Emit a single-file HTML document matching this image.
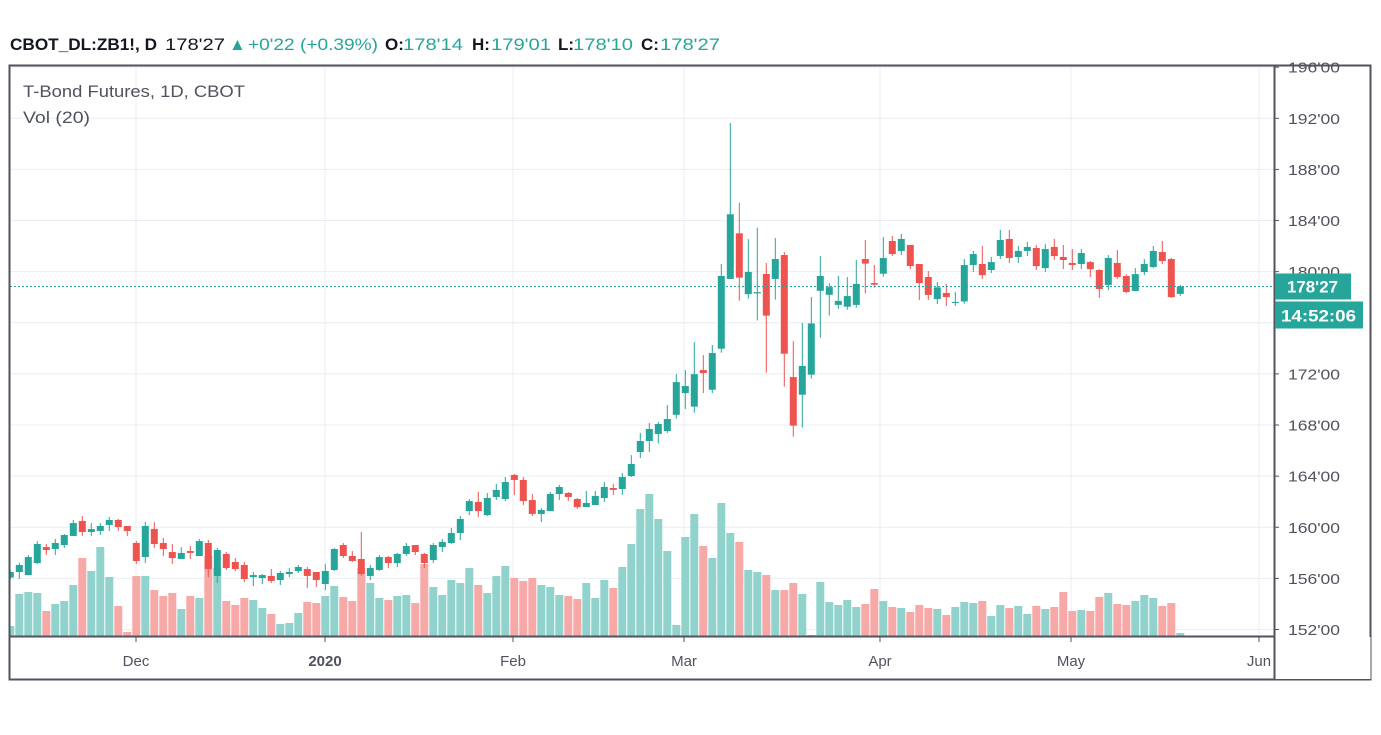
<!DOCTYPE html>
<html><head><meta charset="utf-8"><style>
html,body{margin:0;padding:0;background:#fff;}
svg{display:block;font-family:"Liberation Sans",sans-serif;}
</style></head><body>
<svg id="chart" width="1381" height="735" viewBox="0 0 1381 735" xmlns="http://www.w3.org/2000/svg">
<g id="header" font-size="17">
  <text x="10" y="50" font-weight="bold" fill="#131722" textLength="147" lengthAdjust="spacingAndGlyphs">CBOT_DL:ZB1!, D</text>
  <text x="165" y="50" fill="#131722" textLength="60" lengthAdjust="spacingAndGlyphs">178'27</text>
  <text x="229" y="50" fill="#26a69a">▲</text>
  <text x="248" y="50" fill="#26a69a" textLength="130" lengthAdjust="spacingAndGlyphs">+0'22 (+0.39%)</text>
  <text x="385" y="50" fill="#131722" font-weight="bold">O:</text>
  <text x="403" y="50" fill="#26a69a" textLength="60" lengthAdjust="spacingAndGlyphs">178'14</text>
  <text x="472" y="50" fill="#131722" font-weight="bold">H:</text>
  <text x="491" y="50" fill="#26a69a" textLength="60" lengthAdjust="spacingAndGlyphs">179'01</text>
  <text x="558" y="50" fill="#131722" font-weight="bold">L:</text>
  <text x="573" y="50" fill="#26a69a" textLength="60" lengthAdjust="spacingAndGlyphs">178'10</text>
  <text x="641" y="50" fill="#131722" font-weight="bold">C:</text>
  <text x="660" y="50" fill="#26a69a" textLength="60" lengthAdjust="spacingAndGlyphs">178'27</text>
</g>
<g id="grid"></g>
<g id="vol"></g>
<g id="candles"></g>
<g id="axes"></g>
<text x="23" y="97" font-size="17" fill="#50535e" textLength="222" lengthAdjust="spacingAndGlyphs">T-Bond Futures, 1D, CBOT</text>
<text x="23" y="123" font-size="17" fill="#50535e" textLength="67" lengthAdjust="spacingAndGlyphs">Vol (20)</text>
</svg>
<script>
const opens=[156.06,156.50,156.26,157.20,158.45,158.30,158.61,159.32,160.49,159.63,159.71,160.18,160.57,160.10,158.77,157.67,159.86,158.77,158.06,157.52,158.14,157.75,158.77,156.19,157.91,157.28,157.05,156.10,156.03,156.19,155.87,156.34,156.58,156.73,156.50,155.56,156.66,158.61,157.75,157.52,156.19,156.66,157.67,157.20,157.91,158.61,157.91,157.44,158.45,158.77,159.55,161.27,161.98,160.96,162.37,162.21,164.09,163.70,162.13,161.04,161.27,162.60,162.68,162.21,161.58,161.74,162.29,163.07,162.99,164.01,165.89,166.75,167.30,167.53,168.80,170.50,169.44,172.30,170.76,173.97,179.43,183.00,178.24,178.30,179.82,179.43,181.30,171.75,170.37,171.94,178.50,178.19,177.40,177.26,177.40,180.99,179.11,179.84,182.40,181.62,182.09,180.60,179.58,177.86,178.33,177.58,177.67,180.52,180.60,180.13,181.23,182.56,181.15,181.62,181.85,180.28,181.93,181.15,180.68,180.60,180.75,180.13,178.96,180.68,179.66,178.49,179.97,180.36,181.54,180.99,178.26];
const highs=[156.60,157.23,157.83,158.92,158.69,159.08,159.47,160.57,160.88,160.33,160.33,160.80,160.65,160.10,158.92,160.41,160.41,159.16,158.69,158.45,158.53,159.08,159.00,158.38,158.06,157.59,157.28,156.50,156.34,156.73,156.58,156.81,157.05,156.89,156.50,157.13,158.38,158.77,158.14,159.63,157.05,157.83,157.75,157.99,158.77,158.61,157.99,158.77,159.08,159.94,160.88,162.21,162.76,162.68,163.39,163.93,164.17,163.93,162.60,161.51,162.76,163.31,162.76,162.29,162.84,162.84,163.54,163.39,164.25,165.65,167.38,168.16,168.24,169.56,171.98,172.30,174.49,173.48,174.26,180.60,191.63,185.39,182.55,183.44,180.68,182.63,181.53,174.57,175.98,178.02,181.22,179.10,179.66,179.58,180.91,182.47,180.52,182.71,182.79,182.95,182.09,180.60,180.05,179.19,179.03,178.41,180.99,181.62,182.01,181.15,183.27,183.27,182.01,182.32,182.09,182.17,182.56,182.09,181.77,181.77,180.83,180.20,181.30,181.69,179.81,180.28,180.99,182.01,182.40,181.07,178.96];
const lows=[155.90,155.95,156.26,157.13,157.83,157.83,158.38,159.32,159.32,159.32,159.39,159.71,159.71,159.32,157.13,157.20,158.38,157.75,157.13,157.52,157.52,157.75,156.10,155.64,156.66,156.58,155.72,155.40,155.56,155.64,155.48,156.10,156.42,155.25,155.33,155.09,156.58,157.60,157.28,156.19,155.87,156.58,156.81,156.89,157.75,157.83,156.81,157.20,158.06,158.70,159.00,160.96,160.80,160.88,162.13,162.05,162.52,161.74,160.88,160.41,161.27,162.13,162.05,161.43,161.58,161.74,161.98,162.52,162.52,163.93,165.42,165.89,166.56,167.38,168.50,169.25,168.97,170.50,170.50,173.66,179.43,177.73,177.90,176.18,172.10,177.81,171.00,167.09,167.80,171.63,174.83,176.56,177.10,177.02,177.18,178.30,178.75,179.61,181.22,181.30,180.20,177.78,177.78,177.47,177.31,177.31,177.50,179.98,179.43,179.89,181.00,180.68,180.68,181.22,180.13,179.98,180.91,180.20,180.13,180.20,179.58,177.94,178.56,179.43,178.33,178.49,179.73,180.28,180.60,177.94,178.10];
const closes=[156.50,157.05,157.67,158.69,158.22,158.77,159.39,160.33,159.63,159.86,160.10,160.57,160.02,159.71,157.36,160.10,158.69,158.30,157.59,157.99,157.99,158.92,156.73,158.22,156.81,156.73,155.95,156.26,156.26,155.80,156.42,156.50,156.89,156.19,155.87,156.58,158.30,157.75,157.36,156.34,156.81,157.67,157.20,157.91,158.53,158.06,157.20,158.61,158.85,159.55,160.65,162.05,161.27,162.29,162.92,163.54,163.70,162.05,161.04,161.35,162.60,163.15,162.37,161.58,161.90,162.45,163.15,162.92,163.93,164.95,166.75,167.69,168.08,168.47,171.36,171.05,171.98,172.07,173.63,179.66,184.49,179.53,179.98,178.40,176.56,180.99,173.58,167.95,172.62,175.95,179.66,178.79,177.71,178.09,179.04,180.63,178.98,181.07,181.38,182.56,180.44,179.11,178.18,178.77,178.01,177.63,180.52,181.38,179.73,180.75,182.48,181.07,181.62,181.93,180.44,181.77,181.22,180.91,180.52,181.46,180.20,178.64,181.07,179.58,178.41,179.81,180.60,181.62,180.83,178.01,178.84];
const volumes=[10,42,44,43,25,32,35,51,78,65,89,59,30,4,60,60,46,40,43,27,40,38,80,68,35,31,38,36,28,22,12,13,23,34,33,40,50,39,35,68,53,38,36,40,41,33,72,49,41,56,53,68,51,43,60,70,58,55,58,51,49,41,40,37,53,38,56,48,69,92,127,142,117,85,11,99,122,90,78,133,103,94,66,64,61,46,46,53,42,1,54,34,31,36,29,32,47,35,29,28,24,31,28,27,21,29,34,33,35,20,31,28,30,22,30,27,29,44,25,26,25,39,43,32,31,35,41,38,30,33,3];
const priceTicks=[152,156,160,164,168,172,176,180,184,188,192,196];
const priceTickLabels=["152'00","156'00","160'00","164'00","168'00","172'00","176'00","180'00","184'00","188'00","192'00","196'00"];
const monthIdx=[14,35,56,75,97,118,139];
const monthLabels=["Dec","2020","Feb","Mar","Apr","May","Jun"];
const lastPrice=178.84;
const lastPriceLabel="178'27";
const countdownLabel="14:52:06";

const NS="http://www.w3.org/2000/svg";
const PL=10,PR=1274,PT=65,PB=636;
function xS(i){return 10.3+9*i;}
function yS(p){return 629.5-(p-152)*12.78;}
function vS(v){return 636-v;}
function mk(tag,attrs,parent){const e=document.createElementNS(NS,tag);for(const k in attrs)e.setAttribute(k,attrs[k]);parent.appendChild(e);return e;}
const grid=document.getElementById('grid'),vol=document.getElementById('vol'),cg=document.getElementById('candles'),axes=document.getElementById('axes');
const monthOffset=[0,0,-1,-1,-3,-1,-2];
priceTicks.forEach((p,k)=>{
  const l=mk('line',{x1:PL,x2:PR,y1:yS(p),y2:yS(p),stroke:'#e8eef3','stroke-width':1},grid);
  
  
});
function mX(k){return xS(monthIdx[k])-0.3+monthOffset[k];}
monthIdx.forEach((m,k)=>{
  const x=mX(k);
  const l=mk('line',{x1:x,x2:x,y1:PT,y2:PB,stroke:'#e8eef3','stroke-width':1},grid);
  
  
});
const clip=mk('clipPath',{id:'pc'},document.getElementById('chart'));
mk('rect',{x:PL,y:PT,width:PR-PL,height:PB-PT},clip);
vol.setAttribute('clip-path','url(#pc)');cg.setAttribute('clip-path','url(#pc)');
volumes.forEach((v,i)=>{
  const up=closes[i]>=opens[i];
  const r=mk('rect',{x:xS(i)-4,y:vS(v),width:8,height:v,fill:up?'#92d2cc':'#f7a9a7'},vol);
  
  
});
opens.forEach((o,i)=>{
  const c=closes[i],up=c>=o,col=up?'#26a69a':'#ef5350',x=xS(i);
  const g=mk('g',{},cg);
  
  
  mk('line',{x1:x,x2:x,y1:yS(highs[i]),y2:yS(lows[i]),stroke:col,'stroke-width':1},g);
  const top=yS(Math.max(o,c)),bot=yS(Math.min(o,c));
  mk('rect',{x:x-3.5,y:top,width:7,height:Math.max(1,bot-top),fill:col},g);
});
const lp=mk('line',{x1:PL,x2:PR,y1:yS(lastPrice),y2:yS(lastPrice),stroke:'#26a69a','stroke-width':1,'stroke-dasharray':'2,2'},axes);


const fr=mk('rect',{x:9.5,y:65.5,width:1361,height:614,fill:'none',stroke:'#50535e','stroke-width':2},axes);


const ya=mk('line',{x1:PR+0.5,x2:PR+0.5,y1:PT,y2:680,stroke:'#50535e','stroke-width':2},axes);


const xa=mk('line',{x1:PL,x2:PR,y1:PB+0.5,y2:PB+0.5,stroke:'#50535e','stroke-width':2},axes);


priceTicks.forEach((p,k)=>{
  const y=yS(p);
  mk('line',{x1:PR,x2:PR+5,y1:y,y2:y,stroke:'#50535e','stroke-width':1},axes);
  const t=mk('text',{x:1288,y:y+5.5,'font-size':15,fill:'#50535e',textLength:52,lengthAdjust:'spacingAndGlyphs'},axes);
  t.textContent=priceTickLabels[k];
  
  
});
monthIdx.forEach((m,k)=>{
  const x=mX(k);
  mk('line',{x1:x,x2:x,y1:PB,y2:PB+6,stroke:'#50535e','stroke-width':1},axes);
  const t=mk('text',{x:x,y:666,'font-size':15,fill:'#50535e','text-anchor':'middle','font-weight':k===1?'bold':'normal'},axes);
  t.textContent=monthLabels[k];
  
  
});
mk('rect',{x:PR+1.5,y:637,width:95,height:42,fill:'#fff'},axes);
const yL=yS(lastPrice);
const b1=mk('rect',{x:PR+1,y:yL-13,width:76,height:26,fill:'#26a69a'},axes);


const t1=mk('text',{x:1287,y:yL+6,'font-size':17,fill:'#fff','font-weight':'bold',textLength:51,lengthAdjust:'spacingAndGlyphs'},axes);
t1.textContent=lastPriceLabel;


const b2=mk('rect',{x:PR+1,y:yL+15,width:88,height:27,fill:'#26a69a'},axes);


const t2=mk('text',{x:1281,y:yL+35,'font-size':17,fill:'#fff','font-weight':'bold',textLength:75,lengthAdjust:'spacingAndGlyphs'},axes);
t2.textContent=countdownLabel;


</script>
</body></html>
